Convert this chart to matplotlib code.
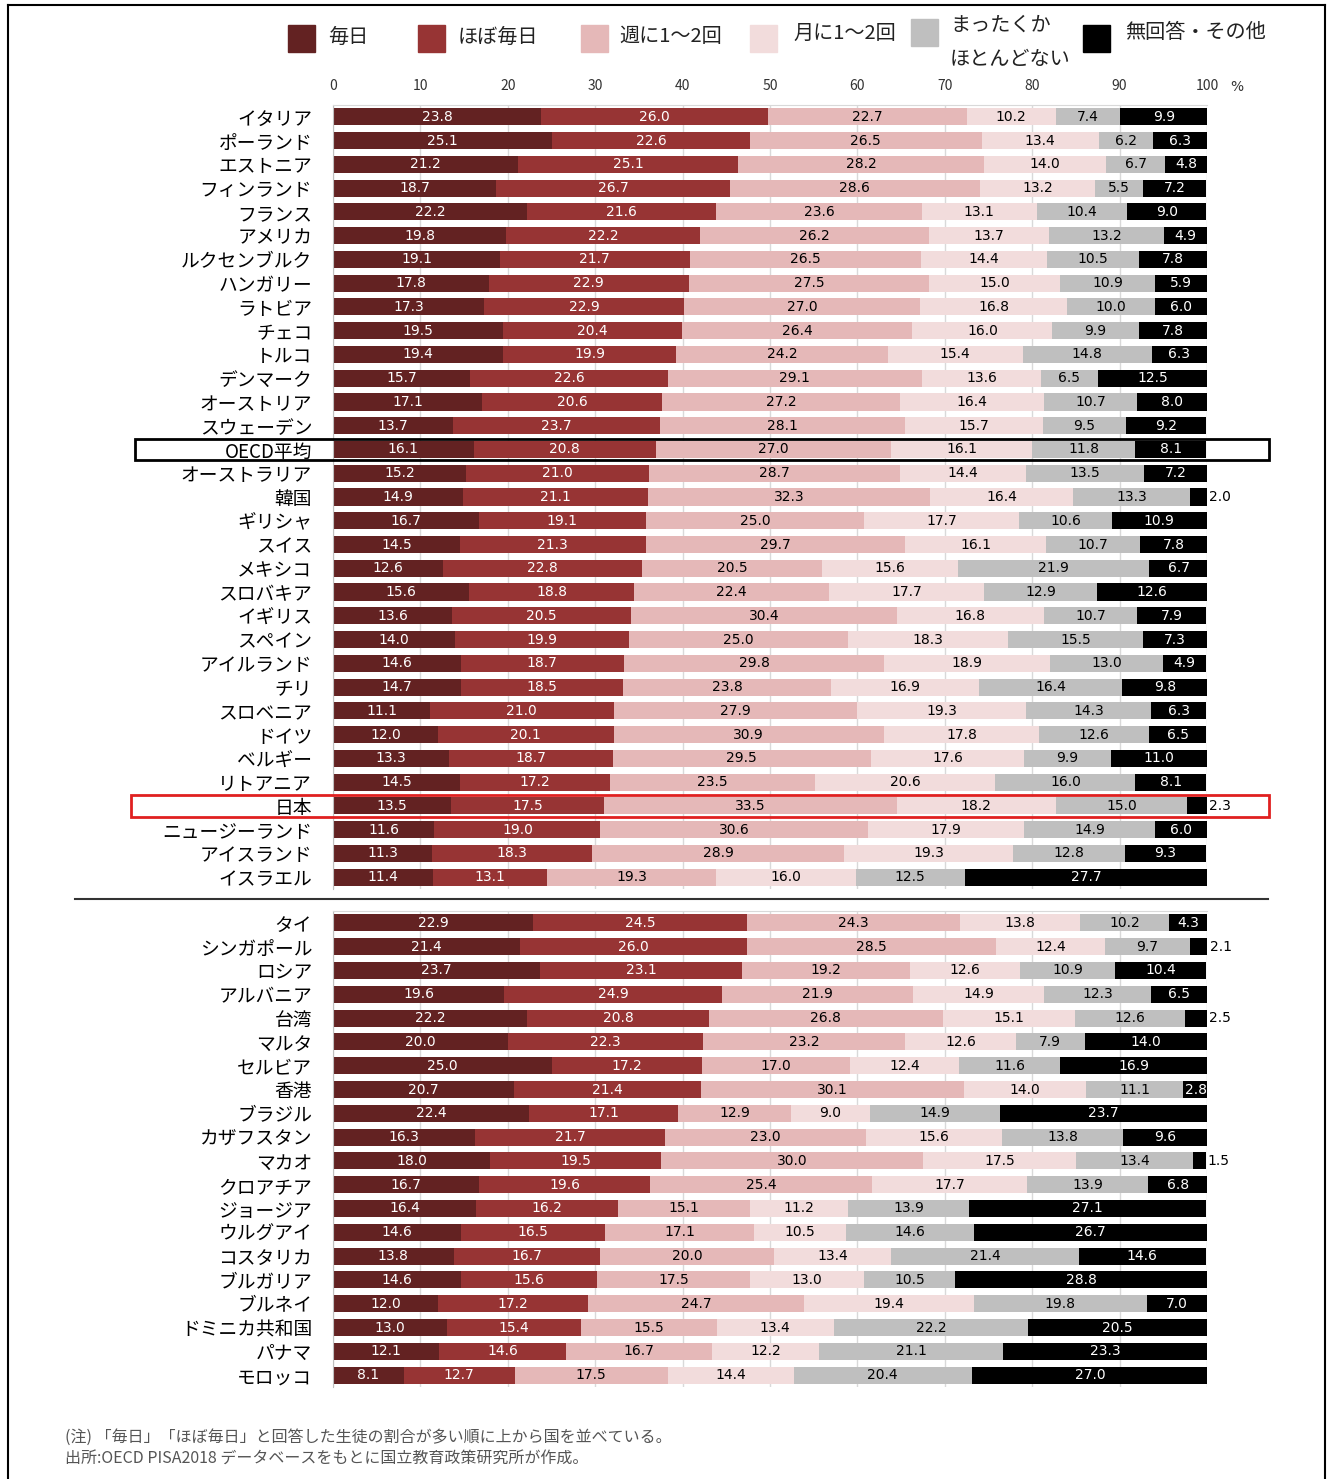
import matplotlib
matplotlib.use("Agg")
import matplotlib.pyplot as plt
from matplotlib.patches import Rectangle
from matplotlib.lines import Line2D
import numpy as np

plt.rcParams['font.family'] = ['Noto Sans CJK JP', 'DejaVu Sans']

# categories (legend order)
categories = ['毎日', 'ほぼ毎日', '週に1〜2回', '月に1〜2回', 'まったくか\nほとんどない', '無回答・その他']
colors = ['#632222', '#973434', '#E5B8B8', '#F2DCDC', '#BFBFBF', '#000000']
label_colors = ['white', 'white', 'black', 'black', 'black', 'white']

# OECD countries
oecd_names = ['イタリア', 'ポーランド', 'エストニア', 'フィンランド', 'フランス', 'アメリカ',
              'ルクセンブルク', 'ハンガリー', 'ラトビア', 'チェコ', 'トルコ', 'デンマーク',
              'オーストリア', 'スウェーデン', 'OECD平均', 'オーストラリア', '韓国', 'ギリシャ',
              'スイス', 'メキシコ', 'スロバキア', 'イギリス', 'スペイン', 'アイルランド', 'チリ',
              'スロベニア', 'ドイツ', 'ベルギー', 'リトアニア', '日本', 'ニュージーランド',
              'アイスランド', 'イスラエル']
oecd_values = [
    [23.8, 26.0, 22.7, 10.2, 7.4, 9.9],
    [25.1, 22.6, 26.5, 13.4, 6.2, 6.3],
    [21.2, 25.1, 28.2, 14.0, 6.7, 4.8],
    [18.7, 26.7, 28.6, 13.2, 5.5, 7.2],
    [22.2, 21.6, 23.6, 13.1, 10.4, 9.0],
    [19.8, 22.2, 26.2, 13.7, 13.2, 4.9],
    [19.1, 21.7, 26.5, 14.4, 10.5, 7.8],
    [17.8, 22.9, 27.5, 15.0, 10.9, 5.9],
    [17.3, 22.9, 27.0, 16.8, 10.0, 6.0],
    [19.5, 20.4, 26.4, 16.0, 9.9, 7.8],
    [19.4, 19.9, 24.2, 15.4, 14.8, 6.3],
    [15.7, 22.6, 29.1, 13.6, 6.5, 12.5],
    [17.1, 20.6, 27.2, 16.4, 10.7, 8.0],
    [13.7, 23.7, 28.1, 15.7, 9.5, 9.2],
    [16.1, 20.8, 27.0, 16.1, 11.8, 8.1],
    [15.2, 21.0, 28.7, 14.4, 13.5, 7.2],
    [14.9, 21.1, 32.3, 16.4, 13.3, 2.0],
    [16.7, 19.1, 25.0, 17.7, 10.6, 10.9],
    [14.5, 21.3, 29.7, 16.1, 10.7, 7.8],
    [12.6, 22.8, 20.5, 15.6, 21.9, 6.7],
    [15.6, 18.8, 22.4, 17.7, 12.9, 12.6],
    [13.6, 20.5, 30.4, 16.8, 10.7, 7.9],
    [14.0, 19.9, 25.0, 18.3, 15.5, 7.3],
    [14.6, 18.7, 29.8, 18.9, 13.0, 4.9],
    [14.7, 18.5, 23.8, 16.9, 16.4, 9.8],
    [11.1, 21.0, 27.9, 19.3, 14.3, 6.3],
    [12.0, 20.1, 30.9, 17.8, 12.6, 6.5],
    [13.3, 18.7, 29.5, 17.6, 9.9, 11.0],
    [14.5, 17.2, 23.5, 20.6, 16.0, 8.1],
    [13.5, 17.5, 33.5, 18.2, 15.0, 2.3],
    [11.6, 19.0, 30.6, 17.9, 14.9, 6.0],
    [11.3, 18.3, 28.9, 19.3, 12.8, 9.3],
    [11.4, 13.1, 19.3, 16.0, 12.5, 27.7],
]

# non-OECD countries
other_names = ['タイ', 'シンガポール', 'ロシア', 'アルバニア', '台湾', 'マルタ', 'セルビア',
               '香港', 'ブラジル', 'カザフスタン', 'マカオ', 'クロアチア', 'ジョージア',
               'ウルグアイ', 'コスタリカ', 'ブルガリア', 'ブルネイ', 'ドミニカ共和国',
               'パナマ', 'モロッコ']
other_values = [
    [22.9, 24.5, 24.3, 13.8, 10.2, 4.3],
    [21.4, 26.0, 28.5, 12.4, 9.7, 2.1],
    [23.7, 23.1, 19.2, 12.6, 10.9, 10.4],
    [19.6, 24.9, 21.9, 14.9, 12.3, 6.5],
    [22.2, 20.8, 26.8, 15.1, 12.6, 2.5],
    [20.0, 22.3, 23.2, 12.6, 7.9, 14.0],
    [25.0, 17.2, 17.0, 12.4, 11.6, 16.9],
    [20.7, 21.4, 30.1, 14.0, 11.1, 2.8],
    [22.4, 17.1, 12.9, 9.0, 14.9, 23.7],
    [16.3, 21.7, 23.0, 15.6, 13.8, 9.6],
    [18.0, 19.5, 30.0, 17.5, 13.4, 1.5],
    [16.7, 19.6, 25.4, 17.7, 13.9, 6.8],
    [16.4, 16.2, 15.1, 11.2, 13.9, 27.1],
    [14.6, 16.5, 17.1, 10.5, 14.6, 26.7],
    [13.8, 16.7, 20.0, 13.4, 21.4, 14.6],
    [14.6, 15.6, 17.5, 13.0, 10.5, 28.8],
    [12.0, 17.2, 24.7, 19.4, 19.8, 7.0],
    [13.0, 15.4, 15.5, 13.4, 22.2, 20.5],
    [12.1, 14.6, 16.7, 12.2, 21.1, 23.3],
    [8.1, 12.7, 17.5, 14.4, 20.4, 27.0],
]

xticks = [0, 10, 20, 30, 40, 50, 60, 70, 80, 90, 100]

W, H = 1330, 1479


def px(x, y):
    # pixel position -> figure fraction
    return x / W, 1 - y / H


def plotGroup(ax, names, values):
    vals = np.array(values)
    y = np.arange(len(names))
    left = np.zeros(len(names))
    for j in range(vals.shape[1]):
        ax.barh(y, vals[:, j], left=left, height=0.72, color=colors[j], zorder=2)
        for i, v in enumerate(vals[:, j]):
            if j == 5 and v < 2.6:
                # too small: put the number outside the bar
                ax.text(left[i] + v + 0.2, i, '%.1f' % v, ha='left', va='center',
                        fontsize=10, color='black', family='DejaVu Sans', zorder=3)
            else:
                ax.text(left[i] + v / 2, i, '%.1f' % v, ha='center', va='center',
                        fontsize=10, color=label_colors[j], family='DejaVu Sans', zorder=3)
        left += vals[:, j]

    ax.set_xlim(0, 100)
    ax.set_ylim(len(names) - 0.5, -0.5)
    ax.set_yticks(y)
    ax.set_yticklabels(names, fontsize=13.5)
    ax.tick_params(axis='y', length=0, pad=15)
    ax.set_xticks(xticks)
    ax.grid(axis='x', color='#d9d9d9', lw=1, zorder=0)
    for s in ['right', 'bottom']:
        ax.spines[s].set_visible(False)
    ax.spines['left'].set_color('#bfbfbf')
    ax.spines['top'].set_color('#d9d9d9')


fig = plt.figure(figsize=(W / 100, H / 100), dpi=100)

# top group (OECD)
ax1 = fig.add_axes([333 / W, 1 - 889 / H, 874 / W, 784 / H])
plotGroup(ax1, oecd_names, oecd_values)
ax1.xaxis.tick_top()
ax1.tick_params(axis='x', length=0, pad=9, labelsize=10, labelcolor='#333333')
ax1.text(103.4, -1.25, '%', fontsize=10, color='#333333', ha='center', va='center',
         transform=ax1.transData, clip_on=False, family='DejaVu Sans')

# highlight boxes for OECD average and Japan
i_oecd = oecd_names.index('OECD平均')
i_jp = oecd_names.index('日本')
ax1.add_patch(Rectangle((-22.6, i_oecd - 0.46), 129.7, 0.92, fill=False,
                        edgecolor='black', lw=2, clip_on=False, zorder=5))
ax1.add_patch(Rectangle((-23.1, i_jp - 0.46), 130.2, 0.92, fill=False,
                        edgecolor='#E02020', lw=2, clip_on=False, zorder=5))

# bottom group (non-OECD)
ax2 = fig.add_axes([333 / W, 1 - 1387 / H, 874 / W, 476 / H])
plotGroup(ax2, other_names, other_values)
ax2.tick_params(axis='x', length=0, labeltop=False, labelbottom=False)

# separator line
fig.add_artist(Line2D([75 / W, 1268 / W], [1 - 899 / H, 1 - 899 / H], color='#333333', lw=1.5))

# legend, drawn by hand
leg_sq = [288, 418, 581, 750, 911, 1083]
leg_tx = [328, 458, 619, 793, 950, 1125]
for k in range(6):
    x0, y0 = px(leg_sq[k], 52 if k != 4 else 46)
    fig.add_artist(Rectangle((x0, y0), 27 / W, 27 / H, color=colors[k],
                             transform=fig.transFigure))
    if k == 4:
        lines = categories[k].split('\n')
        fig.text(*px(leg_tx[k], 25), lines[0], fontsize=14.5, va='center', ha='left', color='#222222')
        fig.text(*px(leg_tx[k], 59), lines[1], fontsize=14.5, va='center', ha='left', color='#222222')
    else:
        fig.text(*px(leg_tx[k], 37 if k < 3 else 33), categories[k], fontsize=14.5,
                 va='center', ha='left', color='#222222')

# notes
fig.text(*px(65, 1437), '(注) 「毎日」「ほぼ毎日」と回答した生徒の割合が多い順に上から国を並べている。',
         fontsize=11.5, color='#555555', va='center', ha='left')
fig.text(*px(65, 1458), '出所:OECD PISA2018 データベースをもとに国立教育政策研究所が作成。',
         fontsize=11.5, color='#555555', va='center', ha='left')

# outer frame
fig.add_artist(Line2D([8 / W, 8 / W], [0, 1 - 5 / H], color='black', lw=1.5))
fig.add_artist(Line2D([1325 / W, 1325 / W], [0, 1 - 5 / H], color='black', lw=1.5))
fig.add_artist(Line2D([8 / W, 1325 / W], [1 - 5 / H, 1 - 5 / H], color='black', lw=1.5))

fig.savefig('out.png', dpi=100)
